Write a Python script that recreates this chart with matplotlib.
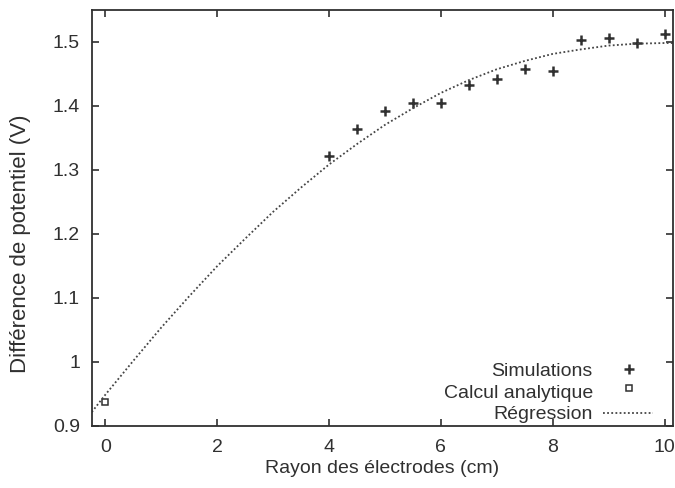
import numpy as np
import matplotlib.pyplot as plt

# Simulated potential difference vs electrode radius
sim_radius = [4, 4.5, 5, 5.5, 6, 6.5, 7, 7.5, 8, 8.5, 9, 9.5, 10]
sim_voltage = [1.322, 1.363, 1.391, 1.405, 1.405, 1.433, 1.441, 1.458, 1.455,
               1.503, 1.506, 1.498, 1.512]

# Analytic value at zero radius
analytic_radius = [0]
analytic_voltage = [0.937]

# Regression curve
reg_radius = [-0.24, 0, 0.5, 1, 1.5, 2, 2.5, 3, 3.5, 4, 4.5, 5, 5.5, 6,
              6.5, 7, 7.5, 8, 8.5, 9, 9.5, 10, 10.15]
reg_voltage = [0.921, 0.948, 1.001, 1.053, 1.102, 1.149, 1.192, 1.234, 1.272,
               1.308, 1.340, 1.370, 1.396, 1.420, 1.440, 1.457, 1.470, 1.481,
               1.488, 1.494, 1.497, 1.498, 1.498]

x_ticks = [0, 2, 4, 6, 8, 10]
y_ticks = [0.9, 1.0, 1.1, 1.2, 1.3, 1.4, 1.5]
y_tick_labels = ["0.9", "1", "1.1", "1.2", "1.3", "1.4", "1.5"]

ink = "#303030"
plt.rcParams["font.family"] = ["Liberation Sans", "DejaVu Sans"]
plt.rcParams["font.size"] = 14

fig = plt.figure(figsize=(6.75, 4.88), dpi=100)
ax = fig.add_axes([0.136, 0.128, 0.861, 0.852])

sim_style = dict(linestyle="none", marker="+", markersize=6.5,
                 markeredgewidth=1.8, color=ink)
ana_style = dict(linestyle="none", marker="s", markersize=5,
                 markerfacecolor="white", markeredgewidth=1.1, color=ink)
reg_style = dict(linestyle=(0, (1.0, 1.3)), linewidth=1.3, color="#454545")

ax.plot(sim_radius, sim_voltage, **sim_style)
ax.plot(analytic_radius, analytic_voltage, **ana_style)
ax.plot(reg_radius, reg_voltage, **reg_style)

ax.set_xlim(-0.24, 10.15)
ax.set_ylim(0.9, 1.55)
ax.set_xticks(x_ticks)
ax.set_yticks(y_ticks)
ax.set_yticklabels(y_tick_labels)
ax.tick_params(direction="in", top=True, right=True, length=5, width=1.2,
               colors=ink, labelsize=14)
ax.tick_params(axis="x", pad=10)
ax.tick_params(axis="y", pad=8.5)
for spine in ax.spines.values():
    spine.set_linewidth(1.3)
    spine.set_color(ink)

ax.set_xlabel("Rayon des électrodes (cm)", color=ink, fontsize=14)
ax.set_ylabel("Différence de potentiel (V)", color=ink, fontsize=16)
ax.xaxis.set_label_coords(0.5, -0.082)
ax.yaxis.set_label_coords(-0.105, 0.438)

# gnuplot-style key: right-aligned labels, samples on the right
key_labels = ["Simulations", "Calcul analytique", "Régression"]
key_baselines = [0.118, 0.066, 0.016]
for label, yb in zip(key_labels, key_baselines):
    ax.text(0.862, yb, label, transform=ax.transAxes, ha="right",
            va="baseline", color=ink, fontsize=14)
ax.plot([0.924], [0.136], transform=ax.transAxes, clip_on=False, **sim_style)
ax.plot([0.924], [0.090], transform=ax.transAxes, clip_on=False, **ana_style)
ax.plot([0.880, 0.966], [0.030, 0.030], transform=ax.transAxes,
        clip_on=False, **reg_style)

fig.savefig("out.png", dpi=100)
